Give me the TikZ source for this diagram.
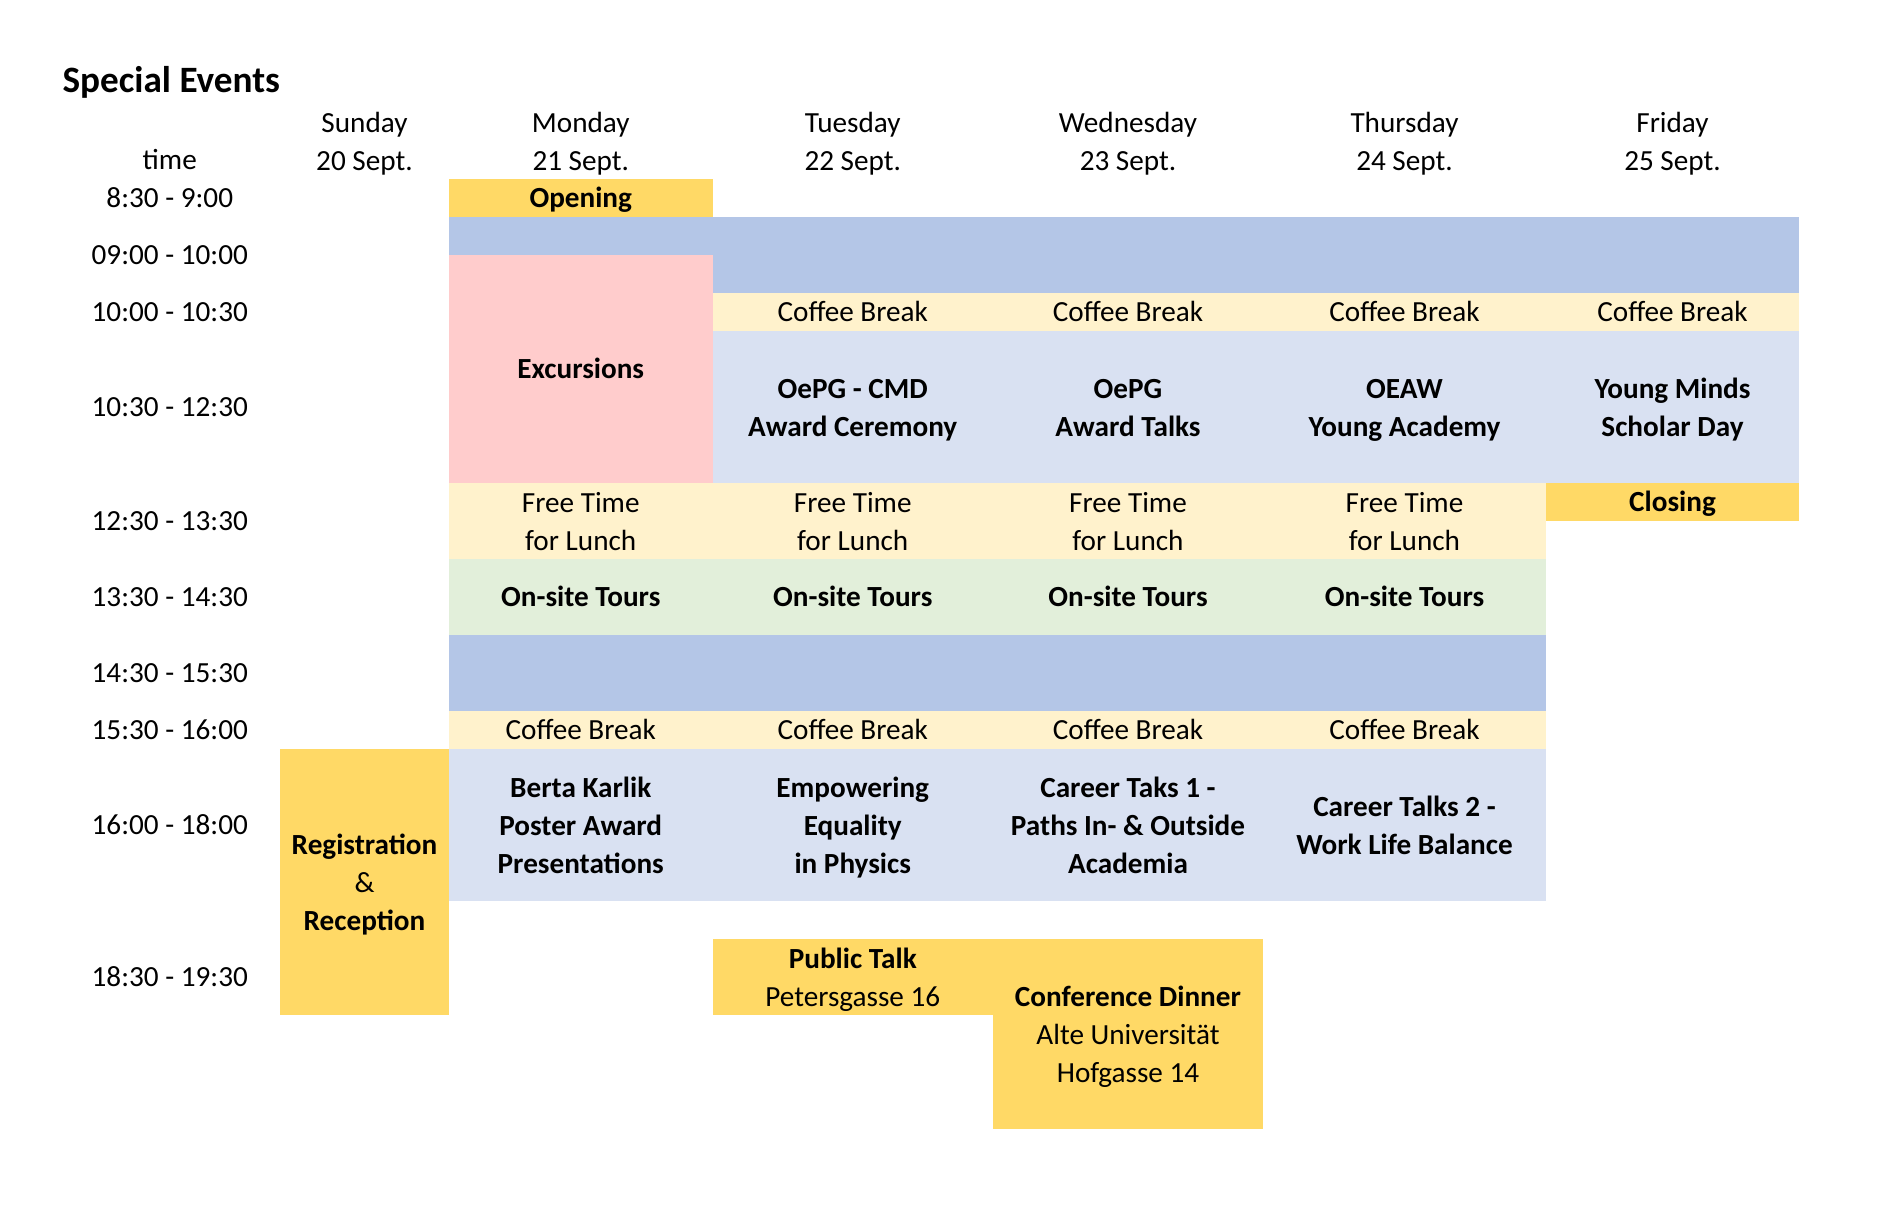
\documentclass[tikz,border=0pt]{standalone}
\usepackage{fontspec}
\setmainfont{Carlito}
\definecolor{goldSlot}{HTML}{FFD966}
\definecolor{paleGold}{HTML}{FFF2CC}
\definecolor{blueSlot}{HTML}{B4C6E7}
\definecolor{paleBlue}{HTML}{D9E1F2}
\definecolor{pinkSlot}{HTML}{FFCCCC}
\definecolor{greenSlot}{HTML}{E2EFDA}
\newcommand\cellfont{\fontsize{29.2}{38}\selectfont}

\begin{document}
\begin{tikzpicture}
[textDecorate/.style={align=center,inner sep=0pt,font=\cellfont,yshift=-2.4pt,
   execute at begin node=\strut,execute at end node=\strut},%
  boldDecorate/.style={textDecorate,font=\cellfont\bfseries},%
  stackDecorate/.style={yshift=-4.3pt},%
  x=1pt,y=-1pt]
\useasboundingbox (0,0) rectangle (1900,1220);
%% coloured blocks
\foreach \colour/\xa/\ya/\xb/\yb in {goldSlot/449/178.6/712.5/216.6,
  blueSlot/449/216.6/1799/254.6, blueSlot/712.5/254.6/1799/292.6,
  pinkSlot/449/254.6/712.5/482.6, paleGold/712.5/292.6/1799/330.6,
  paleBlue/712.5/330.6/1799/482.6, paleGold/449/482.6/1546/558.6,
  goldSlot/1546/482.6/1799/520.6, greenSlot/449/558.6/1546/634.6,
  blueSlot/449/634.6/1546/710.6, paleGold/449/710.6/1546/748.6,
  paleBlue/449/748.6/1546/900.6, goldSlot/280/748.6/449/1014.6,
  goldSlot/712.5/938.6/993/1014.6, goldSlot/993/938.6/1263/1128.6}
{
  \fill[\colour] (\xa,\ya) rectangle (\xb,\yb);
}
%% title and header
\node (title) at (62.4,92.5) [anchor=base west,inner sep=0pt,
  font=\fontsize{37.2}{44}\selectfont\bfseries] {Special Events};
\node (time) at (169.75,159.6) [textDecorate] {time};
\foreach \nodename/\x/\wday/\wdate in {sun/364.5/Sunday/20 Sept.,
  mon/580.75/Monday/21 Sept., tue/852.75/Tuesday/22 Sept.,
  wed/1128/Wednesday/23 Sept., thu/1404.5/Thursday/24 Sept.,
  fri/1672.5/Friday/25 Sept.}
{
  \node (\nodename) at (\x,140.6) [textDecorate,stackDecorate] {\wday\\\wdate};
}
%% time slots
\foreach \nodename/\y/\slot in {t0830/197.6/8:30 - 9:00,
  t0900/254.6/09:00 - 10:00, t1000/311.6/10:00 - 10:30,
  t1030/406.6/10:30 - 12:30, t1230/520.6/12:30 - 13:30,
  t1330/596.6/13:30 - 14:30, t1430/672.6/14:30 - 15:30,
  t1530/729.6/15:30 - 16:00, t1600/824.6/16:00 - 18:00,
  t1830/976.6/18:30 - 19:30}
{
  \node (\nodename) at (169.75,\y) [textDecorate] {\slot};
}
%% morning
\node (opening) at (580.75,197.6) [boldDecorate] {Opening};
\node (excursions) at (580.75,368.6) [boldDecorate] {Excursions};
\foreach \nodename/\x in {cbTueAm/852.75, cbWedAm/1128, cbThuAm/1404.5, cbFriAm/1672.5}
{
  \node (\nodename) at (\x,311.6) [textDecorate] {Coffee Break};
}
\node (cmd) at (852.75,406.6) [boldDecorate,stackDecorate] {OePG - CMD\\Award Ceremony};
\node (awardTalks) at (1128,406.6) [boldDecorate,stackDecorate] {OePG\\Award Talks};
\node (oeaw) at (1404.5,406.6) [boldDecorate,stackDecorate] {OEAW\\Young Academy};
\node (youngMinds) at (1672.5,406.6) [boldDecorate,stackDecorate] {Young Minds\\Scholar Day};
%% afternoon
\node (closing) at (1672.5,501.6) [boldDecorate] {Closing};
\foreach \nodename/\x in {Mon/580.75, Tue/852.75, Wed/1128, Thu/1404.5}
{
  \node (lunch\nodename) at (\x,520.6) [textDecorate,stackDecorate] {Free Time\\for Lunch};
  \node (tours\nodename) at (\x,596.6) [boldDecorate] {On-site Tours};
  \node (cbPm\nodename) at (\x,729.6) [textDecorate] {Coffee Break};
}
\node (berta) at (580.75,824.6) [boldDecorate,stackDecorate] {Berta Karlik\\Poster Award\\Presentations};
\node (equality) at (852.75,824.6) [boldDecorate,stackDecorate] {Empowering\\Equality\\in Physics};
\node (career1) at (1128,824.6) [boldDecorate,stackDecorate] {Career Taks 1 -\\Paths In- \& Outside\\Academia};
\node (career2) at (1404.5,824.6) [boldDecorate,stackDecorate] {Career Talks 2 -\\Work Life Balance};
%% evening
\node (registration) at (364.5,881.6) [textDecorate,stackDecorate]
  {\textbf{Registration}\\\&\\\textbf{Reception}};
\node (publicTalk) at (852.75,976.6) [textDecorate,stackDecorate] {\textbf{Public Talk}\\Petersgasse 16};
\node (dinner) at (1128,1033.6) [textDecorate,stackDecorate]
  {\textbf{Conference Dinner}\\Alte Universität\\Hofgasse 14};
\end{tikzpicture}
\end{document}
